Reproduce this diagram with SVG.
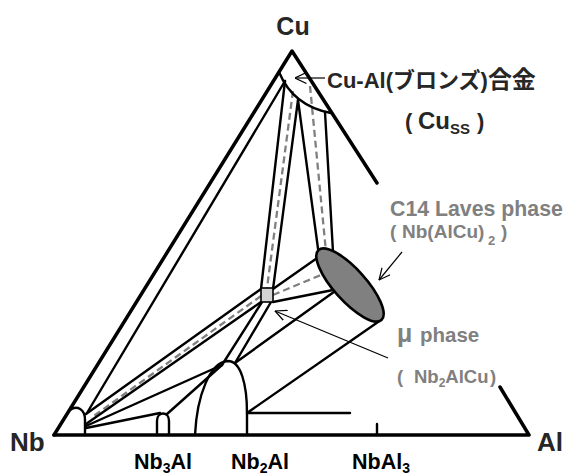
<svg xmlns="http://www.w3.org/2000/svg" width="566" height="476" viewBox="0 0 566 476">
<defs>
<style>
.k{stroke:#000;stroke-width:2.4;fill:none;stroke-linecap:round;stroke-linejoin:round}
.e{stroke:#000;stroke-width:3.5;fill:none;stroke-linecap:round;stroke-linejoin:round}
.d{stroke:#808080;stroke-width:2.3;stroke-dasharray:7 4;fill:none}
.a{stroke:#000;stroke-width:1.2;fill:none;marker-end:url(#oa)}
text{font-family:"Liberation Sans","Noto Sans CJK JP",sans-serif;font-weight:bold}
.lb{fill:#262626}
.gy{fill:#808080}
</style>
<marker id="oa" viewBox="0 0 12 12" refX="11.5" refY="6" markerWidth="12" markerHeight="12" markerUnits="userSpaceOnUse" orient="auto">
<path d="M0,0.5 L11.5,6 L0,11.5" fill="none" stroke="#000" stroke-width="1.2"/>
</marker>
</defs>
<rect width="566" height="476" fill="#fff"/>

<g id="triangle">
<path class="e" d="M54,435 L292,51 L377,183"/>
<path class="e" d="M500,387 L529,435 L54,435"/>
<path class="k" d="M377,424 L377,435"/>
</g>

<g id="connectors">
<path class="k" d="M285,81 L87,413"/>
<path class="k" d="M285,81 L261,289"/>
<path class="k" d="M298,100 L273,289"/>
<path class="d" d="M293,91 L267,288"/>
<path class="k" d="M298,100 L319,256"/>
<path class="k" d="M325,112 L333,252"/>
<path class="d" d="M310,86 L326,252"/>
<path class="k" d="M273,289 L320,256"/>
<path class="d" d="M273,295 L328,272"/>
<path class="k" d="M273,302 L338,289"/>
<path class="k" d="M261,289 L86,414"/>
<path class="d" d="M261,296 L91,418"/>
<path class="k" d="M261,302 L86,424"/>
<path class="k" d="M262,302 L222,365"/>
<path class="k" d="M271,302 L235,363"/>
<path class="k" d="M338,289 L235,363"/>
<path class="k" d="M378,322 L247,413 L350,413"/>
<path class="k" d="M86,426 L222,365"/>
<path class="k" d="M86,428 L160,413"/>
<path class="k" d="M167,414 L222,365"/>
</g>

<g id="cu-ss">
<path class="k" d="M279,72 Q293,106 331,113"/>
</g>
<g id="nb-ss">
<path class="k" d="M70,410 C77,405 85,409 85,420 L85,435"/>
</g>
<g id="nb3al">
<path class="k" d="M157,435 L157,421 C157,411 169,411 169,421 L169,435"/>
</g>
<g id="nb2al">
<path class="k" d="M195,435 C197,395 210,362 228,361 C241,361 247,385 247,413 L247,435"/>
</g>
<g id="laves">
<ellipse cx="350" cy="285" rx="47" ry="16" transform="rotate(48 350 285)" fill="#808080" stroke="#000" stroke-width="2.6"/>
</g>
<g id="mu">
<rect x="261" y="288" width="12" height="14" fill="#d4d4d4" stroke="#000" stroke-width="1.6"/>
</g>

<g id="arrows">
<path class="a" d="M325,78 L295,78"/>
<path class="a" d="M402,252 L379,280"/>
<path class="a" d="M388,358 L275,311"/>
</g>

<g id="labels">
<text class="lb" x="293" y="35" font-size="25" text-anchor="middle">Cu</text>
<text class="lb" x="10" y="451" font-size="26">Nb</text>
<text class="lb" x="537" y="451" font-size="26">Al</text>
<text fill="#000" x="134" y="469" font-size="21.5">Nb<tspan font-size="14" dy="3.5">3</tspan><tspan dy="-3.5">Al</tspan></text>
<text fill="#000" x="231" y="469" font-size="21.5">Nb<tspan font-size="14" dy="3.5">2</tspan><tspan dy="-3.5">Al</tspan></text>
<text fill="#000" x="352" y="469" font-size="21.5">NbAl<tspan font-size="14" dy="3.5">3</tspan></text>
<text class="lb" x="327" y="88" font-size="22">Cu-Al(<tspan>ブロンズ</tspan>)<tspan font-size="24">合金</tspan></text>
<text class="lb" x="405" y="129" font-size="22">(<tspan x="418" font-size="24">Cu</tspan><tspan font-size="15" dy="5">SS</tspan><tspan x="477" dy="-5">)</tspan></text>
<text class="gy" x="390" y="216" font-size="21.3">C14 Laves phase</text>
<text class="gy" x="390" y="238" font-size="19">(<tspan x="402">Nb(AlCu)</tspan><tspan x="488" dy="7" font-size="13">2</tspan><tspan x="501" dy="-7">)</tspan></text>
<text class="gy" x="397" y="342" font-size="25">μ<tspan x="420" font-size="20.5">phase</tspan></text>
<text class="gy" x="397" y="383" font-size="18.5">(<tspan x="414">Nb</tspan><tspan font-size="12" dy="4">2</tspan><tspan dy="-4">AlCu</tspan><tspan x="490">)</tspan></text>
</g>
</svg>
